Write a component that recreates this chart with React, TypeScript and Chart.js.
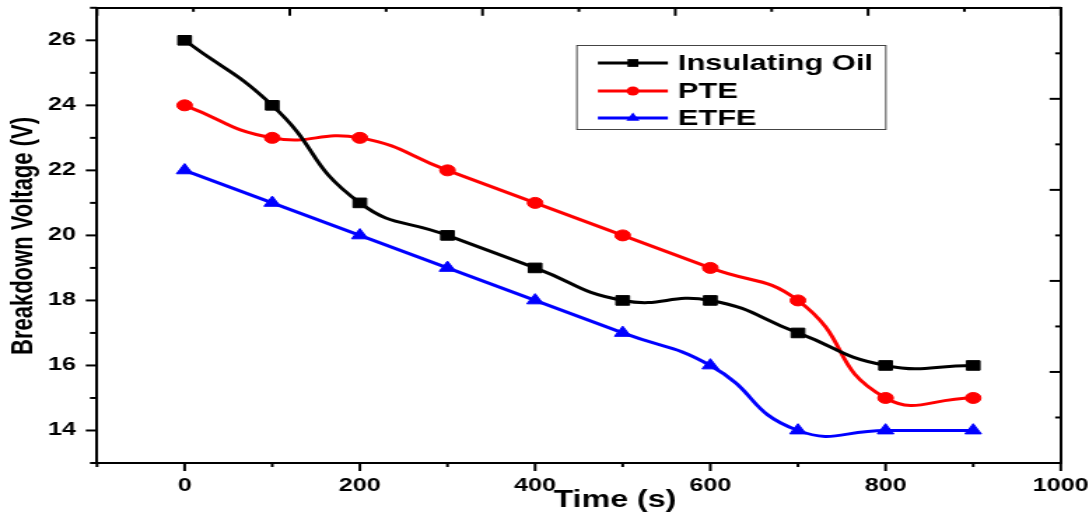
import React, { useEffect, useRef } from 'react';
import { Chart, registerables } from 'chart.js';

Chart.register(...registerables);

// ---- data ----
const times = [0, 100, 200, 300, 400, 500, 600, 700, 800, 900];
const insulatingOil = [26, 24, 21, 20, 19, 18, 18, 17, 16, 16];
const pte = [24, 23, 23, 22, 21, 20, 19, 18, 15, 15];
const etfe = [22, 21, 20, 19, 18, 17, 16, 14, 14, 14];
const seriesNames = ['Insulating Oil', 'PTE', 'ETFE'];
const xTickLabels = [0, 200, 400, 600, 800, 1000];
const yTickLabels = [14, 16, 18, 20, 22, 24, 26];
const xTitle = 'Time (s)';
const yTitle = 'Breakdown Voltage (V)';

// ---- layout (the reference is horizontally stretched) ----
const SX = 1.4;
const W = 1089;
const H = 517;
const IW = Math.round(W / SX);
const FONT = '"Liberation Sans", Arial, sans-serif';

function drawMarker(ctx: CanvasRenderingContext2D, style: string, x: number, y: number, r: number) {
  ctx.beginPath();
  if (style === 'rect') {
    const s = r * Math.SQRT1_2;
    ctx.rect(x - s, y - s, 2 * s, 2 * s);
  } else if (style === 'circle') {
    ctx.arc(x, y, r, 0, Math.PI * 2);
  } else {
    const a = (-90 * Math.PI) / 180;
    ctx.moveTo(x + Math.cos(a) * r, y + Math.sin(a) * r);
    for (let i = 1; i < 3; i++) {
      const b = a + (i * 2 * Math.PI) / 3;
      ctx.lineTo(x + Math.cos(b) * r, y + Math.sin(b) * r);
    }
    ctx.closePath();
  }
  ctx.fill();
}

const decorPlugin = {
  id: 'decor',
  afterDraw(chart: any) {
    const ctx: CanvasRenderingContext2D = chart.ctx;
    const { x, y, x2, y2 } = chart.scales;
    const area = chart.chartArea;
    ctx.save();
    ctx.strokeStyle = '#000';
    ctx.lineWidth = 2;
    // bottom ticks (outward)
    for (let v = x.min; v <= x.max; v += 100) {
      const px = x.getPixelForValue(v);
      const len = v % 200 === 0 ? 8 : 4;
      ctx.beginPath();
      ctx.moveTo(px, area.bottom);
      ctx.lineTo(px, area.bottom + len);
      ctx.stroke();
    }
    // left ticks (outward)
    for (let v = y.min; v <= y.max; v += 1) {
      const py = y.getPixelForValue(v);
      const len = v % 2 === 0 ? 8 : 5;
      ctx.beginPath();
      ctx.moveTo(area.left, py);
      ctx.lineTo(area.left - len, py);
      ctx.stroke();
    }
    // top ticks (inward)
    for (let v = x2.min; v <= x2.max; v += 1) {
      const px = x2.getPixelForValue(v);
      const len = v % 2 === 0 ? 8 : 4;
      ctx.beginPath();
      ctx.moveTo(px, area.top);
      ctx.lineTo(px, area.top + len);
      ctx.stroke();
    }
    // right ticks (inward)
    for (let v = y2.min; v <= y2.max; v += 1) {
      const py = y2.getPixelForValue(v);
      const len = v % 2 === 0 ? 8 : 4;
      ctx.beginPath();
      ctx.moveTo(area.right, py);
      ctx.lineTo(area.right - len, py);
      ctx.stroke();
    }

    // axis titles
    ctx.fillStyle = '#000';
    ctx.font = `bold 23px ${FONT}`;
    ctx.textAlign = 'center';
    ctx.textBaseline = 'middle';
    ctx.fillText(xTitle, 615 / SX, 501);
    ctx.save();
    ctx.translate(17, 236);
    ctx.rotate(-Math.PI / 2);
    ctx.font = `bold 22px ${FONT}`;
    ctx.fillText(yTitle, 0, 0);
    ctx.restore();

    // legend
    const bx = 577 / SX;
    const bw = (886 - 577) / SX;
    ctx.lineWidth = 1;
    ctx.strokeStyle = '#444';
    ctx.strokeRect(bx, 45.5, bw, 84);
    const rows = [63, 91, 118];
    chart.data.datasets.forEach((ds: any, i: number) => {
      const ry = rows[i];
      ctx.strokeStyle = ds.borderColor;
      ctx.fillStyle = ds.borderColor;
      ctx.lineWidth = 3;
      ctx.beginPath();
      ctx.moveTo(598 / SX, ry);
      ctx.lineTo(668 / SX, ry);
      ctx.stroke();
      drawMarker(ctx, ds.pointStyle, 633 / SX, ry, ds.pointStyle === 'circle' ? 4.5 : 5.5);
      ctx.fillStyle = '#000';
      ctx.font = `bold 22px ${FONT}`;
      ctx.textAlign = 'left';
      ctx.textBaseline = 'middle';
      ctx.fillText(ds.label, 678 / SX, ry + 1);
    });
    ctx.restore();
  },
};

export default function App() {
  const ref = useRef<HTMLCanvasElement | null>(null);
  useEffect(() => {
    if (!ref.current) return;
    Chart.defaults.font.family = FONT;
    const mk = (vals: number[]) => times.map((t, i) => ({ x: t, y: vals[i] }));
    const colors = ['#000000', '#ff0000', '#0000ff'];
    const styles = ['rect', 'circle', 'triangle'];
    const radii = [6.8, 5.5, 6.8];
    const all = [insulatingOil, pte, etfe];
    const tickFont = { size: 18, weight: 'bold' as const, family: FONT };
    const chart = new Chart(ref.current, {
      type: 'line',
      data: {
        datasets: all.map((vals, i) => ({
          label: seriesNames[i],
          data: mk(vals),
          borderColor: colors[i],
          backgroundColor: colors[i],
          pointBackgroundColor: colors[i],
          pointBorderColor: colors[i],
          pointBorderWidth: 1,
          pointStyle: styles[i] as any,
          pointRadius: radii[i],
          borderWidth: 3,
          tension: 0.5,
          fill: false,
          clip: false as any,
        })),
      },
      options: {
        responsive: false,
        animation: false,
        devicePixelRatio: 1,
        layout: { padding: 0 },
        plugins: { legend: { display: false }, tooltip: { enabled: false }, title: { display: false } },
        events: [],
        scales: {
          x: {
            type: 'linear',
            position: 'bottom',
            min: -100,
            max: 1000,
            grid: { display: false, drawTicks: false },
            border: { display: true, color: '#000', width: 2 },
            ticks: {
              stepSize: 100,
              autoSkip: false,
              maxRotation: 0,
              padding: 12,
              color: '#000',
              font: tickFont,
              callback: (v: any) => (xTickLabels.includes(Number(v)) ? String(v) : ''),
            },
            afterFit: (s: any) => {
              s.height = H - 463;
              s.paddingLeft = 0;
              s.paddingRight = 0;
            },
          },
          x2: {
            type: 'linear',
            position: 'top',
            min: 0,
            max: 10,
            grid: { display: false, drawTicks: false },
            border: { display: true, color: '#000', width: 2 },
            ticks: { display: false },
            afterFit: (s: any) => {
              s.height = 7.5;
              s.paddingLeft = 0;
              s.paddingRight = 0;
            },
          },
          y: {
            type: 'linear',
            position: 'left',
            min: 13,
            max: 27,
            grid: { display: false, drawTicks: false },
            border: { display: true, color: '#000', width: 2 },
            ticks: {
              stepSize: 1,
              autoSkip: false,
              padding: 15,
              color: '#000',
              font: tickFont,
              callback: (v: any) => (yTickLabels.includes(Number(v)) ? String(v) : ''),
            },
            afterFit: (s: any) => {
              s.width = 97 / SX;
              s.paddingTop = 0;
              s.paddingBottom = 0;
            },
          },
          y2: {
            type: 'linear',
            position: 'right',
            min: 0,
            max: 10,
            grid: { display: false, drawTicks: false },
            border: { display: true, color: '#000', width: 2 },
            ticks: { display: false },
            afterFit: (s: any) => {
              s.width = IW - 1061 / SX;
              s.paddingTop = 0;
              s.paddingBottom = 0;
            },
          },
        },
      } as any,
      plugins: [decorPlugin],
    });
    return () => chart.destroy();
  }, []);

  return (
    <div style={{ position: 'fixed', left: 0, top: 0, width: W, height: H, background: '#fff' }}>
      <canvas
        ref={ref}
        width={IW}
        height={H}
        style={{ width: `${W}px`, height: `${H}px`, display: 'block' }}
      />
    </div>
  );
}
